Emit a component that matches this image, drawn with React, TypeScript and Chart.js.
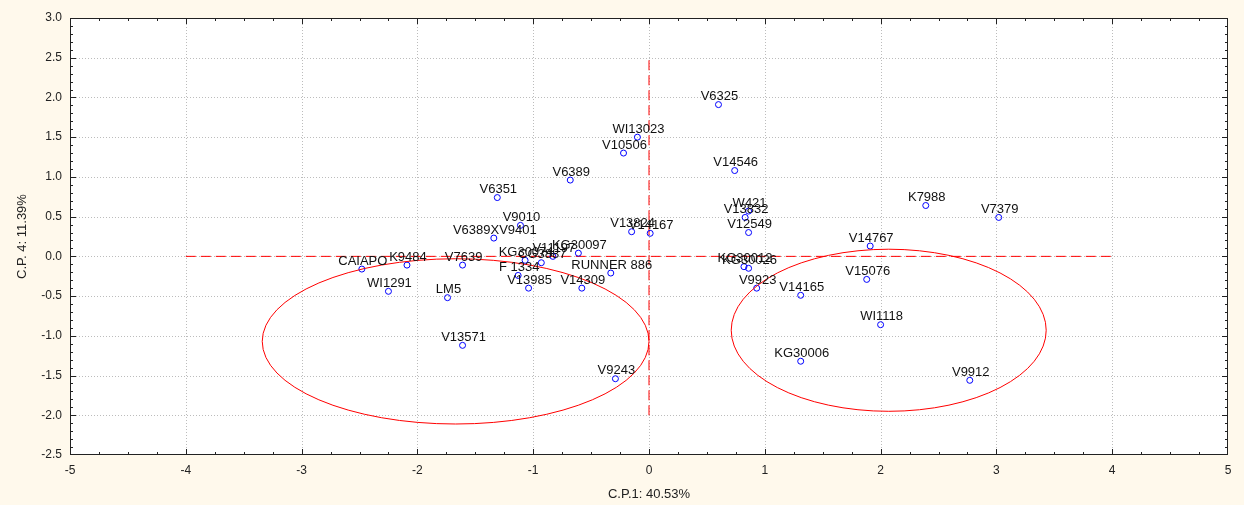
import React, { useEffect, useRef } from 'react';
import { Chart, registerables } from 'chart.js';

Chart.register(...registerables);

// ---- data ----
const pointNames = [
  'V6325', 'WI13023', 'V10506', 'V14546', 'V6389', 'V6351', 'K7988', 'V7379',
  'W421', 'V13832', 'V12549', 'V9010', 'V6389XV9401', 'V13824', 'V14167', 'V14767',
  'CAIAPO', 'K9484', 'V7639', 'WI1291', 'LM5',
  'KG30074', 'CG3887', 'V11197', 'KG30097', 'F 1334', 'RUNNER 886',
  'V13985', 'V14309', 'V13571', 'V9243',
  'KG30012', 'KG30026', 'V9923', 'V14165', 'V15076', 'WI1118', 'KG30006', 'V9912',
];
const cp1Values = [
  0.60, -0.10, -0.22, 0.74, -0.68, -1.31, 2.39, 3.02,
  0.86, 0.83, 0.86, -1.11, -1.34, -0.15, 0.01, 1.91,
  -2.48, -2.09, -1.61, -2.25, -1.74,
  -1.07, -0.93, -0.83, -0.61, -1.13, -0.33,
  -1.04, -0.58, -1.61, -0.29,
  0.82, 0.86, 0.93, 1.31, 1.88, 2.00, 1.31, 2.77,
];
const cp4Values = [
  1.91, 1.50, 1.30, 1.08, 0.96, 0.74, 0.64, 0.49,
  0.57, 0.49, 0.30, 0.39, 0.23, 0.31, 0.29, 0.13,
  -0.16, -0.11, -0.11, -0.44, -0.52,
  -0.05, -0.08, 0.00, 0.04, -0.24, -0.21,
  -0.40, -0.40, -1.12, -1.54,
  -0.13, -0.15, -0.40, -0.49, -0.29, -0.86, -1.32, -1.56,
];

// reference lines
const hLineX = [-4, 4];
const hLineY = [0, 0];
const vLineX = [0, 0];
const vLineY = [-2, 2.5];

// group ellipses: [centre x, centre y, radius x, radius y]
const leftEllipse = [-1.67, -1.07, 1.67, 1.04];
const rightEllipse = [2.07, -0.93, 1.36, 1.02];

const xMin = -5, xMax = 5, xStep = 1, xMinorStep = 0.25;
const yMin = -2.5, yMax = 3, yStep = 0.5, yMinorStep = 0.1;

const xTitle = 'C.P.1: 40.53%';
const yTitle = 'C.P. 4: 11.39%';

const FONT = '"Liberation Sans", Arial, sans-serif';

const decorPlugin = {
  id: 'decor',
  beforeDraw(chart: any) {
    const { ctx, chartArea: a, width, height } = chart;
    const xs = chart.scales.x, ys = chart.scales.y;
    ctx.save();
    ctx.fillStyle = '#FFF9EC';
    ctx.fillRect(0, 0, width, height);
    ctx.fillStyle = '#ffffff';
    ctx.fillRect(a.left, a.top, a.right - a.left, a.bottom - a.top);
    ctx.strokeStyle = '#bcbcbc';
    ctx.lineWidth = 1;
    ctx.setLineDash([1, 2]);
    for (let v = xMin + xStep; v < xMax - 1e-9; v += xStep) {
      const p = Math.round(xs.getPixelForValue(v)) + 0.5;
      ctx.beginPath(); ctx.moveTo(p, a.top); ctx.lineTo(p, a.bottom); ctx.stroke();
    }
    for (let v = yMin + yStep; v < yMax - 1e-9; v += yStep) {
      const p = Math.round(ys.getPixelForValue(v)) + 0.5;
      ctx.beginPath(); ctx.moveTo(a.left, p); ctx.lineTo(a.right, p); ctx.stroke();
    }
    ctx.restore();
  },
  afterDatasetsDraw(chart: any) {
    const { ctx } = chart;
    const xs = chart.scales.x, ys = chart.scales.y;
    ctx.save();
    // ellipses
    ctx.strokeStyle = '#ff0000';
    ctx.lineWidth = 1;
    [leftEllipse, rightEllipse].forEach((e) => {
      const cx = xs.getPixelForValue(e[0]);
      const cy = ys.getPixelForValue(e[1]);
      const rx = Math.abs(xs.getPixelForValue(e[0] + e[2]) - cx);
      const ry = Math.abs(ys.getPixelForValue(e[1] + e[3]) - cy);
      ctx.beginPath();
      ctx.ellipse(cx, cy, rx, ry, 0, 0, Math.PI * 2);
      ctx.stroke();
    });
    // point labels
    const meta = chart.getDatasetMeta(0);
    ctx.fillStyle = '#111111';
    ctx.font = `13px ${FONT}`;
    ctx.textAlign = 'center';
    ctx.textBaseline = 'alphabetic';
    meta.data.forEach((el: any, i: number) => {
      ctx.fillText(pointNames[i], el.x + 1, el.y - 4.5);
    });
    ctx.restore();
  },
  afterDraw(chart: any) {
    const { ctx, chartArea: a } = chart;
    const xs = chart.scales.x, ys = chart.scales.y;
    ctx.save();
    ctx.strokeStyle = '#222222';
    ctx.lineWidth = 1;
    ctx.strokeRect(a.left + 0.5, a.top + 0.5, a.right - a.left - 1, a.bottom - a.top - 1);
    // tick marks, inward on all four sides
    const nx = Math.round((xMax - xMin) / xMinorStep);
    for (let k = 1; k < nx; k++) {
      const v = xMin + k * xMinorStep;
      const major = Math.abs(v / xStep - Math.round(v / xStep)) < 1e-6;
      const len = major ? 6 : 3;
      const p = Math.round(xs.getPixelForValue(v)) + 0.5;
      ctx.beginPath();
      ctx.moveTo(p, a.bottom); ctx.lineTo(p, a.bottom - len);
      ctx.moveTo(p, a.top); ctx.lineTo(p, a.top + len);
      ctx.stroke();
    }
    const ny = Math.round((yMax - yMin) / yMinorStep);
    for (let k = 1; k < ny; k++) {
      const v = yMin + k * yMinorStep;
      const major = Math.abs(v / yStep - Math.round(v / yStep)) < 1e-6;
      const len = major ? 6 : 3;
      const p = Math.round(ys.getPixelForValue(v)) + 0.5;
      ctx.beginPath();
      ctx.moveTo(a.left, p); ctx.lineTo(a.left + len, p);
      ctx.moveTo(a.right, p); ctx.lineTo(a.right - len, p);
      ctx.stroke();
    }
    // axis titles
    ctx.fillStyle = '#222222';
    ctx.font = `13px ${FONT}`;
    ctx.textAlign = 'center';
    ctx.textBaseline = 'middle';
    ctx.fillText(xTitle, (a.left + a.right) / 2, 494);
    ctx.translate(22, (a.top + a.bottom) / 2);
    ctx.rotate(-Math.PI / 2);
    ctx.fillText(yTitle, 0, 0);
    ctx.restore();
  },
};

export default function App() {
  const ref = useRef<HTMLCanvasElement | null>(null);
  useEffect(() => {
    document.body.style.margin = '0';
    const canvas = ref.current;
    if (!canvas) return;
    const pts = cp1Values.map((x, i) => ({ x, y: cp4Values[i] }));
    const chart = new Chart(canvas, {
      type: 'scatter',
      data: {
        datasets: [
          {
            label: 'Genotypes',
            data: pts,
            pointStyle: 'circle',
            pointRadius: 3,
            borderWidth: 1,
            borderColor: '#0000ff',
            backgroundColor: 'rgba(255,255,255,0)',
          },
          {
            type: 'line',
            label: 'h',
            data: hLineX.map((x, i) => ({ x, y: hLineY[i] })),
            borderColor: '#ff0000',
            borderWidth: 1,
            borderDash: [10, 5],
            pointRadius: 0,
            fill: false,
          } as any,
          {
            type: 'line',
            label: 'v',
            data: vLineX.map((x, i) => ({ x, y: vLineY[i] })),
            borderColor: '#ff0000',
            borderWidth: 1,
            borderDash: [10, 5],
            pointRadius: 0,
            fill: false,
          } as any,
        ],
      },
      options: {
        animation: false,
        responsive: false,
        maintainAspectRatio: false,
        layout: { padding: { top: 18, right: 16, left: 0, bottom: 0 } },
        plugins: { legend: { display: false }, tooltip: { enabled: false } },
        events: [],
        scales: {
          x: {
            type: 'linear',
            min: xMin,
            max: xMax,
            grid: { display: false, drawTicks: false },
            border: { display: false },
            ticks: {
              stepSize: xStep,
              padding: 8,
              color: '#222222',
              font: { family: FONT, size: 12 },
              maxRotation: 0,
              autoSkip: false,
            },
            afterFit: (s: any) => { s.height = 50; },
          },
          y: {
            type: 'linear',
            min: yMin,
            max: yMax,
            grid: { display: false, drawTicks: false },
            border: { display: false },
            ticks: {
              stepSize: yStep,
              padding: 8,
              color: '#222222',
              font: { family: FONT, size: 12 },
              autoSkip: false,
              callback: (v: any) => Number(v).toFixed(1),
            },
            afterFit: (s: any) => { s.width = 70; },
          },
        },
      },
      plugins: [decorPlugin],
    });
    return () => chart.destroy();
  }, []);
  return (
    <div style={{ position: 'absolute', left: 0, top: 0, width: 1244, height: 505 }}>
      <canvas ref={ref} width={1244} height={505} />
    </div>
  );
}
